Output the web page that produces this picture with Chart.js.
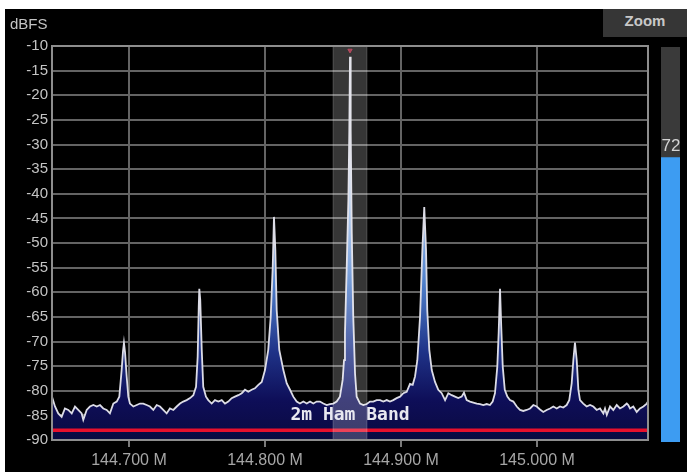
<!DOCTYPE html>
<html>
<head>
<meta charset="utf-8">
<script src="https://cdn.jsdelivr.net/npm/chart.js@4"></script>
<style>
  html, body { margin: 0; padding: 0; background: #fff; }
  #wrap { position: relative; width: 687px; height: 472px; overflow: hidden; }
  #panel { position: absolute; left: 5px; top: 9px; width: 682px; height: 463px; background: #000; }
  #spectrum { position: absolute; left: 0; top: 0; }
  #unit { position: absolute; left: 10px; top: 15px; color: #c4c4c4; font: 15px 'Liberation Sans', Arial, sans-serif; }
  #zoomBtn { position: absolute; left: 603px; top: 9px; width: 84px; height: 28px; background: #363636;
             color: #c8c8c8; font: bold 15px 'Liberation Sans', Arial, sans-serif; text-align: center; line-height: 24px; }
  #levelBox { position: absolute; left: 661px; top: 47px; width: 19px; height: 395px; background: #3a3a3a; }
  #levelText { position: absolute; left: 659px; top: 136px; width: 24px; text-align: center;
               color: #d4d4d4; font: 17px 'Liberation Sans', Arial, sans-serif; }
</style>
</head>
<body>
<div id="wrap">
  <div id="panel"></div>
  <canvas id="spectrum" width="687" height="472"></canvas>
  <div id="unit">dBFS</div>
  <div id="zoomBtn">Zoom</div>
  <div id="levelBox"><canvas id="level" width="19" height="395"></canvas></div>
  <div id="levelText">72</div>
</div>
<script>
// spectrum trace
const freqMHz = [
  144.6434, 144.6456, 144.6480, 144.6505, 144.6529, 144.6554, 144.6579, 144.6603, 144.6627, 144.6652,
  144.6664, 144.6689, 144.6713, 144.6738, 144.6763, 144.6787, 144.6811, 144.6836, 144.6860, 144.6885,
  144.6910, 144.6929, 144.6946, 144.6956, 144.6963, 144.6971, 144.6983, 144.6995, 144.7007, 144.7032,
  144.7057, 144.7081, 144.7105, 144.7130, 144.7154, 144.7179, 144.7204, 144.7228, 144.7252, 144.7277,
  144.7301, 144.7326, 144.7351, 144.7375, 144.7399, 144.7424, 144.7449, 144.7473, 144.7493, 144.7505,
  144.7513, 144.7517, 144.7524, 144.7535, 144.7546, 144.7566, 144.7583, 144.7608, 144.7632, 144.7657,
  144.7682, 144.7706, 144.7730, 144.7755, 144.7779, 144.7804, 144.7829, 144.7853, 144.7877, 144.7902,
  144.7926, 144.7951, 144.7976, 144.8000, 144.8024, 144.8042, 144.8057, 144.8066, 144.8076, 144.8086,
  144.8105, 144.8135, 144.8160, 144.8184, 144.8208, 144.8233, 144.8257, 144.8282, 144.8307, 144.8331,
  144.8355, 144.8380, 144.8404, 144.8429, 144.8454, 144.8478, 144.8502, 144.8527, 144.8551, 144.8571,
  144.8581, 144.8588, 144.8601, 144.8613, 144.8620, 144.8625, 144.8630, 144.8638, 144.8649, 144.8662,
  144.8674, 144.8699, 144.8723, 144.8748, 144.8772, 144.8796, 144.8821, 144.8846, 144.8870, 144.8895,
  144.8919, 144.8943, 144.8968, 144.8993, 144.9017, 144.9042, 144.9066, 144.9086, 144.9103, 144.9120,
  144.9140, 144.9157, 144.9171, 144.9184, 144.9193, 144.9208, 144.9226, 144.9250, 144.9274, 144.9299,
  144.9324, 144.9348, 144.9373, 144.9397, 144.9421, 144.9446, 144.9463, 144.9483, 144.9507, 144.9532,
  144.9557, 144.9581, 144.9605, 144.9630, 144.9654, 144.9674, 144.9691, 144.9708, 144.9718, 144.9728,
  144.9737, 144.9748, 144.9763, 144.9782, 144.9801, 144.9826, 144.9851, 144.9875, 144.9899, 144.9924,
  144.9949, 144.9973, 144.9998, 145.0022, 145.0046, 145.0071, 145.0096, 145.0120, 145.0145, 145.0169,
  145.0193, 145.0218, 145.0237, 145.0255, 145.0267, 145.0279, 145.0292, 145.0304, 145.0316, 145.0340,
  145.0365, 145.0390, 145.0414, 145.0439, 145.0463, 145.0488, 145.0500, 145.0513, 145.0537, 145.0561,
  145.0586, 145.0610, 145.0635, 145.0660, 145.0671, 145.0684, 145.0708, 145.0733, 145.0757, 145.0782,
  145.0807, 145.0816
];
const levelDb = [
  -81.2, -83.2, -84.6, -85.3, -83.6, -83.9, -84.6, -83.2, -83.9, -84.6,
  -85.9, -83.9, -83.2, -82.9, -83.2, -82.9, -83.6, -83.9, -84.6, -82.6,
  -82.2, -81.2, -75.8, -72.0, -70.3, -72.2, -77.1, -81.2, -82.6, -83.2,
  -82.9, -82.6, -82.6, -82.9, -83.2, -83.9, -82.9, -83.2, -83.9, -84.6,
  -83.6, -83.9, -83.2, -82.6, -82.2, -81.9, -81.5, -80.9, -79.2, -73.1,
  -62.9, -59.3, -61.6, -71.7, -79.2, -81.2, -81.9, -82.6, -81.9, -82.2,
  -81.9, -82.6, -82.2, -81.5, -81.2, -80.9, -80.5, -79.8, -80.2, -79.8,
  -79.5, -78.8, -78.2, -75.8, -71.7, -65.0, -54.8, -44.7, -51.4, -63.6,
  -71.7, -75.8, -78.5, -79.8, -81.2, -82.2, -82.6, -82.2, -82.6, -82.2,
  -82.6, -82.2, -82.2, -82.6, -82.9, -82.7, -82.6, -82.2, -81.2, -77.8,
  -73.8, -68.3, -54.8, -41.3, -27.1, -12.2, -27.1, -48.0, -65.0, -76.5,
  -81.2, -82.6, -82.9, -82.7, -82.2, -82.2, -81.9, -81.9, -82.2, -81.9,
  -82.2, -81.9, -81.5, -81.2, -80.5, -80.2, -78.6, -78.8, -77.1, -73.8,
  -65.0, -51.4, -42.7, -51.4, -63.6, -71.7, -75.8, -78.2, -79.8, -80.5,
  -81.9, -80.5, -80.9, -81.2, -81.5, -81.2, -80.4, -81.9, -82.2, -82.4,
  -82.6, -82.7, -82.9, -82.7, -82.9, -82.2, -80.5, -75.1, -68.3, -59.3,
  -67.0, -75.1, -79.8, -81.2, -81.9, -82.2, -83.2, -83.9, -84.1, -83.9,
  -83.6, -82.9, -83.2, -83.8, -84.3, -83.9, -83.6, -83.2, -83.6, -83.2,
  -83.4, -82.9, -81.9, -78.5, -73.8, -70.2, -73.8, -79.8, -81.9, -82.6,
  -83.2, -82.9, -83.2, -83.9, -83.6, -84.6, -83.6, -84.9, -83.2, -83.9,
  -82.9, -83.6, -83.2, -82.6, -82.9, -83.6, -83.2, -84.3, -83.6, -83.2,
  -82.6, -82.2
];

const xMinMHz = 144.6434;
const xMaxMHz = 145.0816;
const xTickMHz = [144.7, 144.8, 144.9, 145.0];
const yMinDb = -90;
const yMaxDb = -10;
const squelchDb = -88;
const bandMHz = [144.850, 144.875];
const bandLabel = '2m Ham Band';
const peakMarker = [{ x: 144.8625, y: -10.9 }];
const levelPercent = [72];

Chart.defaults.font.family = "'Liberation Sans', Arial, sans-serif";

function spectrumFill(context) {
  const chart = context.chart;
  const { ctx, chartArea } = chart;
  if (!chartArea) return 'rgba(10,10,60,1)';
  const g = ctx.createLinearGradient(0, chartArea.bottom, 0, chartArea.top);
  const at = db => (db - yMinDb) / (yMaxDb - yMinDb);
  g.addColorStop(0, '#0a0a40');
  g.addColorStop(at(-82), '#0e0e58');
  g.addColorStop(at(-72), '#1f3388');
  g.addColorStop(at(-58), '#4f80cc');
  g.addColorStop(at(-42), '#a4c4ee');
  g.addColorStop(at(-25), '#f2f6ff');
  g.addColorStop(1, '#ffffff');
  return g;
}

// shaded band, its label and the plot frame
const bandPlugin = {
  id: 'hamBand',
  afterDatasetsDraw(chart) {
    const { ctx, chartArea, scales } = chart;
    const x0 = scales.x.getPixelForValue(bandMHz[0]);
    const x1 = scales.x.getPixelForValue(bandMHz[1]);
    ctx.save();
    ctx.fillStyle = 'rgba(255,255,255,0.21)';
    ctx.fillRect(x0, chartArea.top, x1 - x0, chartArea.bottom - chartArea.top);
    ctx.strokeStyle = 'rgba(255,255,255,0.12)';
    ctx.lineWidth = 1.5;
    ctx.strokeRect(x0, chartArea.top, x1 - x0, chartArea.bottom - chartArea.top);

    ctx.font = "bold 18px 'DejaVu Sans Mono', monospace";
    ctx.fillStyle = '#e8e8f0';
    ctx.textAlign = 'center';
    ctx.textBaseline = 'alphabetic';
    ctx.fillText(bandLabel, (x0 + x1) / 2, chartArea.bottom - 20);

    ctx.strokeStyle = '#8e8e8e';
    ctx.lineWidth = 2;
    ctx.strokeRect(chartArea.left, chartArea.top, chartArea.right - chartArea.left, chartArea.bottom - chartArea.top);
    ctx.restore();
  }
};

new Chart(document.getElementById('spectrum'), {
  type: 'line',
  data: {
    datasets: [
      {
        label: 'peak',
        type: 'scatter',
        data: peakMarker,
        pointStyle: 'triangle',
        rotation: 180,
        pointRadius: 2.5,
        backgroundColor: 'rgba(190,30,60,0.75)',
        borderColor: 'rgba(190,30,60,0.75)',
        order: 0
      },
      {
        label: 'squelch',
        data: [{ x: xMinMHz, y: squelchDb }, { x: xMaxMHz, y: squelchDb }],
        borderColor: '#e8102c',
        borderWidth: 3.5,
        pointRadius: 0,
        fill: false,
        order: 1
      },
      {
        label: 'spectrum',
        data: freqMHz.map((f, i) => ({ x: f, y: levelDb[i] })),
        borderColor: '#dcdce6',
        borderWidth: 1.8,
        backgroundColor: spectrumFill,
        fill: 'start',
        tension: 0,
        pointRadius: 0,
        order: 2
      }
    ]
  },
  options: {
    responsive: false,
    animation: false,
    layout: { padding: { left: 0, top: 46, right: 39, bottom: 0 } },
    plugins: { legend: { display: false }, tooltip: { enabled: false } },
    scales: {
      x: {
        type: 'linear',
        min: xMinMHz,
        max: xMaxMHz,
        afterFit: s => { s.height = 32; },
        afterBuildTicks: s => { s.ticks = xTickMHz.map(v => ({ value: v })); },
        grid: { color: '#646464', lineWidth: 2, tickColor: '#7a7a7a', tickLength: 7, drawTicks: true },
        border: { display: false },
        ticks: {
          color: '#a6a6a6',
          font: { size: 16 },
          padding: 4,
          maxRotation: 0,
          callback: v => Number(v).toFixed(3) + ' M'
        }
      },
      y: {
        min: yMinDb,
        max: yMaxDb,
        afterFit: s => { s.width = 52; },
        grid: { color: '#646464', lineWidth: 2, drawTicks: false },
        border: { display: false },
        ticks: { stepSize: 5, color: '#c4c4c4', font: { size: 15 }, padding: 4 }
      }
    }
  },
  plugins: [bandPlugin]
});

// level meter on the right
new Chart(document.getElementById('level'), {
  type: 'bar',
  data: {
    labels: ['level'],
    datasets: [{ data: levelPercent, backgroundColor: '#3d9cf2', barPercentage: 1, categoryPercentage: 1 }]
  },
  options: {
    responsive: false,
    animation: false,
    layout: { padding: 0 },
    plugins: { legend: { display: false }, tooltip: { enabled: false } },
    scales: {
      x: { display: false },
      y: { display: false, min: 0, max: 100 }
    }
  }
});
</script>
</body>
</html>
